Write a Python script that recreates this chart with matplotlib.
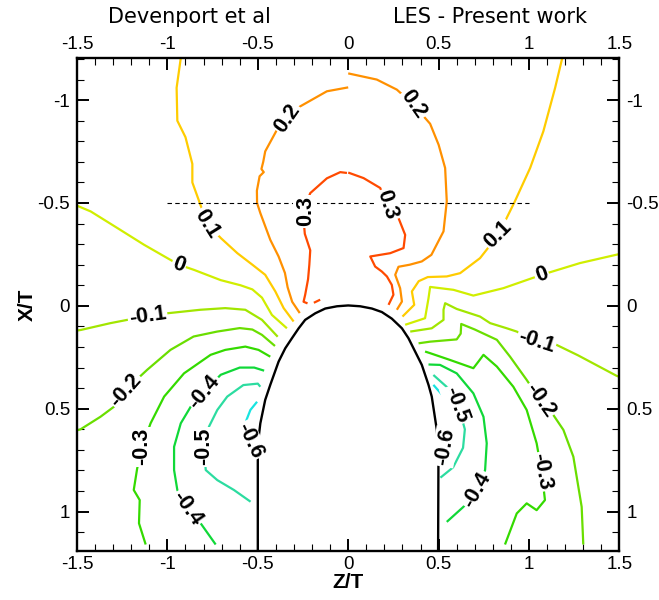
import matplotlib
matplotlib.use('Agg')
import matplotlib.pyplot as plt
from matplotlib.ticker import MultipleLocator

plt.rcParams['axes.unicode_minus'] = False

# contour lines, (Z/T, X/T) pairs
# left half: Devenport et al
dev_p03 = [(-0.007, -0.646), (-0.044, -0.65), (-0.118, -0.62), (-0.21, -0.548), (-0.235, -0.49),
           (-0.245, -0.40), (-0.24, -0.35), (-0.21, -0.27), (-0.215, -0.20), (-0.222, -0.13),
           (-0.238, -0.054), (-0.247, -0.02), (-0.225, -0.012)]
dev_p03b = [(-0.19, -0.015), (-0.155, -0.03)]
dev_p02 = [(0.0, -1.062), (-0.118, -1.043), (-0.265, -0.97), (-0.339, -0.913), (-0.394, -0.856),
           (-0.459, -0.751), (-0.47, -0.70), (-0.48, -0.665), (-0.467, -0.65), (-0.49, -0.63),
           (-0.505, -0.56), (-0.504, -0.50), (-0.486, -0.451), (-0.431, -0.321), (-0.385, -0.24),
           (-0.35, -0.16), (-0.335, -0.09), (-0.31, -0.02), (-0.268, 0.035)]
dev_p01 = [(-0.925, -1.21), (-0.949, -1.06), (-0.945, -0.90), (-0.90, -0.82), (-0.862, -0.69),
           (-0.862, -0.60), (-0.825, -0.51), (-0.78, -0.40), (-0.705, -0.33), (-0.613, -0.256),
           (-0.53, -0.20), (-0.459, -0.151), (-0.403, -0.07), (-0.357, 0.011), (-0.302, 0.076)]
dev_z00 = [(-1.5, -0.487), (-1.424, -0.459), (-1.276, -0.378), (-1.129, -0.297), (-1.0, -0.232),
           (-0.936, -0.20), (-0.853, -0.175), (-0.705, -0.125), (-0.595, -0.10), (-0.53, -0.08),
           (-0.477, -0.04), (-0.422, 0.044), (-0.339, 0.109)]
dev_m01 = [(-1.5, 0.12), (-1.478, 0.117), (-1.315, 0.084), (-1.11, 0.049), (-1.0, 0.036),
           (-0.818, 0.019), (-0.68, 0.011), (-0.569, 0.019), (-0.477, 0.068), (-0.39, 0.15)]
dev_m02 = [(-1.5, 0.605), (-1.48, 0.60), (-1.37, 0.539), (-1.295, 0.49), (-1.232, 0.409),
           (-1.112, 0.311), (-0.983, 0.214), (-0.855, 0.149), (-0.725, 0.125), (-0.60, 0.108),
           (-0.53, 0.115), (-0.477, 0.141), (-0.405, 0.195)]
dev_m03 = [(-1.12, 1.16), (-1.157, 1.057), (-1.153, 0.944), (-1.186, 0.895), (-1.167, 0.79),
           (-1.14, 0.685), (-1.093, 0.571), (-1.018, 0.441), (-0.908, 0.328), (-0.761, 0.238),
           (-0.68, 0.214), (-0.569, 0.198), (-0.496, 0.214), (-0.431, 0.247)]
dev_m04 = [(-0.733, 1.16), (-0.816, 1.057), (-0.89, 0.985), (-0.945, 0.895), (-0.963, 0.798),
           (-0.963, 0.685), (-0.926, 0.571), (-0.871, 0.49), (-0.797, 0.417), (-0.705, 0.335),
           (-0.60, 0.30), (-0.52, 0.30), (-0.465, 0.315)]
dev_m05 = [(-0.54, 0.952), (-0.632, 0.895), (-0.724, 0.847), (-0.788, 0.798), (-0.797, 0.685),
           (-0.77, 0.587), (-0.724, 0.506), (-0.669, 0.441), (-0.58, 0.385), (-0.50, 0.378),
           (-0.486, 0.393)]
dev_m06 = [(-0.565, 0.56), (-0.541, 0.506), (-0.504, 0.466)]

# right half: LES - present work
les_p03 = [(0.0, -0.648), (0.085, -0.621), (0.177, -0.573), (0.214, -0.49), (0.278, -0.427),
           (0.315, -0.345), (0.306, -0.281), (0.232, -0.256), (0.122, -0.24), (0.149, -0.191),
           (0.186, -0.167), (0.214, -0.143), (0.241, -0.102), (0.25, -0.054), (0.223, -0.005)]
les_p02 = [(0.0, -1.13), (0.158, -1.10), (0.269, -1.051), (0.361, -0.978), (0.453, -0.885),
           (0.50, -0.783), (0.536, -0.67), (0.545, -0.508), (0.527, -0.362), (0.46, -0.248),
           (0.407, -0.216), (0.34, -0.20), (0.278, -0.19), (0.26, -0.151), (0.287, -0.086),
           (0.297, -0.021), (0.269, 0.019)]
les_p01 = [(1.185, -1.21), (1.144, -1.059), (1.079, -0.848), (1.006, -0.67), (0.92, -0.505),
           (0.83, -0.345), (0.729, -0.232), (0.619, -0.159), (0.545, -0.143), (0.44, -0.14),
           (0.39, -0.12), (0.352, -0.07), (0.365, -0.005), (0.30, 0.052)]
les_z00 = [(1.5, -0.252), (1.282, -0.208), (1.07, -0.151), (0.858, -0.086), (0.692, -0.05),
           (0.582, -0.078), (0.453, -0.092), (0.444, -0.037), (0.425, 0.06), (0.315, 0.092)]
les_m01 = [(1.5, 0.345), (1.484, 0.34), (1.27, 0.24), (1.134, 0.182), (1.04, 0.174),
           (0.932, 0.125), (0.877, 0.109), (0.785, 0.084), (0.729, 0.052), (0.6, 0.015),
           (0.536, -0.013), (0.527, 0.019), (0.527, 0.068), (0.462, 0.109), (0.343, 0.125)]
les_m02 = [(1.30, 1.16), (1.291, 0.977), (1.245, 0.733), (1.19, 0.603), (1.134, 0.53),
           (1.061, 0.457), (0.987, 0.36), (0.895, 0.247), (0.822, 0.165), (0.70, 0.115),
           (0.625, 0.088), (0.622, 0.135), (0.60, 0.163), (0.453, 0.174), (0.389, 0.182)]
les_m03 = [(0.867, 1.16), (0.932, 1.009), (0.987, 0.96), (1.042, 0.993), (1.088, 0.944),
           (1.07, 0.806), (1.042, 0.668), (0.987, 0.506), (0.913, 0.393), (0.822, 0.295),
           (0.748, 0.238), (0.72, 0.271), (0.692, 0.303), (0.56, 0.262), (0.453, 0.23),
           (0.425, 0.222)]
les_m04 = [(0.545, 1.05), (0.637, 0.977), (0.711, 0.895), (0.757, 0.798), (0.766, 0.668),
           (0.748, 0.539), (0.692, 0.425), (0.6, 0.328), (0.508, 0.287), (0.444, 0.285)]
les_m05 = [(0.51, 0.835), (0.58, 0.785), (0.635, 0.69), (0.645, 0.60), (0.62, 0.52),
           (0.564, 0.409), (0.471, 0.336)]
les_m06 = [(0.471, 0.384), (0.536, 0.449), (0.573, 0.539), (0.578, 0.56)]

# body outline
body = [(-0.5, 1.2), (-0.5, 0.75), (-0.497, 0.652), (-0.486, 0.571), (-0.459, 0.457),
        (-0.431, 0.384), (-0.385, 0.271), (-0.348, 0.206), (-0.311, 0.157), (-0.274, 0.109),
        (-0.238, 0.068), (-0.182, 0.036), (-0.127, 0.013), (-0.062, 0.002), (0.0, -0.002),
        (0.066, 0.002), (0.131, 0.013), (0.186, 0.030), (0.241, 0.062), (0.297, 0.109),
        (0.333, 0.157), (0.37, 0.222), (0.407, 0.287), (0.444, 0.384), (0.462, 0.441),
        (0.49, 0.603), (0.499, 0.749), (0.497, 1.2)]

levels = [0.3, 0.2, 0.1, 0.0, -0.1, -0.2, -0.3, -0.4, -0.5, -0.6]
level_lines = {
    0.3: [dev_p03, dev_p03b, les_p03],
    0.2: [dev_p02, les_p02],
    0.1: [dev_p01, les_p01],
    0.0: [dev_z00, les_z00],
    -0.1: [dev_m01, les_m01],
    -0.2: [dev_m02, les_m02],
    -0.3: [dev_m03, les_m03],
    -0.4: [dev_m04, les_m04],
    -0.5: [dev_m05, les_m05],
    -0.6: [dev_m06, les_m06],
}
level_colors = ['#ff4a00', '#ff9000', '#ffcc00', '#d0ee00', '#a2e600',
                '#6ade00', '#34da00', '#10d838', '#2cdca0', '#18e4e0']

# contour labels: text, Z/T, X/T, rotation
label_text = ['0.3', '0.3', '0.2', '0.2', '0.1', '0.1', '0', '0', '-0.1', '-0.1',
              '-0.2', '-0.2', '-0.3', '-0.3', '-0.4', '-0.4', '-0.4', '-0.5', '-0.5',
              '-0.6', '-0.6']
label_z = [-0.238, 0.214, -0.339, 0.361, -0.78, 0.83, -0.936, 1.07, -1.11, 1.04,
           -1.232, 1.061, -1.14, 1.07, -0.797, -0.89, 0.711, -0.797, 0.60,
           -0.545, 0.535]
label_x = [-0.46, -0.49, -0.913, -0.978, -0.40, -0.345, -0.20, -0.151, 0.049, 0.174,
           0.409, 0.457, 0.685, 0.806, 0.417, 0.985, 0.895, 0.685, 0.48,
           0.655, 0.685]
label_rot = [90, -72, 55, -55, -58, 45, -20, 20, 8, -18,
             48, -55, 90, -80, 50, -55, 60, 90, -70,
             -65, 80]

fig = plt.figure(figsize=(6.59, 6.0), dpi=100)
ax = fig.add_axes([0.1168, 0.0822, 0.8232, 0.8212])

for lev, col in zip(levels, level_colors):
    for line in level_lines[lev]:
        zz = [p[0] for p in line]
        xx = [p[1] for p in line]
        ax.plot(zz, xx, color=col, lw=1.6, solid_capstyle='butt', zorder=2)

ax.plot([p[0] for p in body], [p[1] for p in body], color='black', lw=1.7, zorder=3)
ax.plot([-1, 1], [-0.5, -0.5], color='black', lw=0.8, ls=(0, (4, 3)), zorder=2)

for t, z, x, r in zip(label_text, label_z, label_x, label_rot):
    ax.text(z, x, t, rotation=r, rotation_mode='anchor', ha='center', va='center',
            fontsize=15.5, fontweight='bold', family='Liberation Sans', color='black',
            bbox=dict(boxstyle='square,pad=0.06', fc='white', ec='none'), zorder=4)

ax.set_xlim(-1.5, 1.5)
ax.set_ylim(1.19, -1.205)
ax.xaxis.set_major_locator(MultipleLocator(0.5))
ax.xaxis.set_minor_locator(MultipleLocator(0.1))
ax.yaxis.set_major_locator(MultipleLocator(0.5))
ax.yaxis.set_minor_locator(MultipleLocator(0.1))
ax.xaxis.set_major_formatter(plt.FuncFormatter(lambda v, p: '%g' % round(v, 2)))
ax.yaxis.set_major_formatter(plt.FuncFormatter(lambda v, p: '%g' % round(v, 2)))
ax.tick_params(which='both', direction='in', top=True, right=True,
               labeltop=True, labelright=True)
ax.tick_params(which='major', length=8.5, width=1.4, pad=5, labelsize=13.5)
ax.tick_params(axis='x', which='major', pad=3.5)
ax.tick_params(which='minor', length=5, width=0.8)
for lab in ax.get_xticklabels() + ax.get_yticklabels():
    lab.set_family('Liberation Sans')
for s in ax.spines.values():
    s.set_linewidth(1.7)

fig.text(27 / 659, 1 - 305 / 600, 'X/T', rotation=90, ha='center', va='center',
         fontsize=15, fontweight='bold', family='Liberation Sans')
fig.text(348 / 659, 1 - 582 / 600, 'Z/T', ha='center', va='center',
         fontsize=15, fontweight='bold', family='Liberation Sans')
fig.text(189 / 659, 1 - 17 / 600, 'Devenport et al', ha='center', va='center', fontsize=15)
fig.text(490 / 659, 1 - 17 / 600, 'LES - Present work', ha='center', va='center', fontsize=15)

fig.savefig('out.png', dpi=100)
